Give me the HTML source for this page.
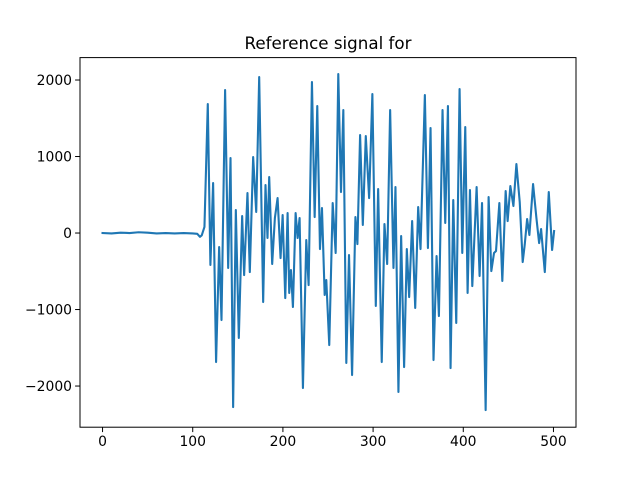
<!DOCTYPE html>
<html><head><meta charset="utf-8"><style>
html,body{margin:0;padding:0;background:#fff;}
svg{display:block;font-family:"DejaVu Sans","Liberation Sans",sans-serif;}
</style></head>
<body>
<svg id="chart" width="640" height="480" viewBox="0 0 640 480">
<rect x="0" y="0" width="640" height="480" fill="#fff"/>
<text x="328" y="49" text-anchor="middle" font-size="16.7">Reference signal for</text>
<g id="plot"></g>
</svg>
<script>
const xVals=[0,10,20,30,40,50,60,70,80,90,100,105,108,110,113,116.7,119.6,122.6,125.9,129.3,131.9,135.9,139.3,141.9,144.8,147.8,151.1,154.8,157,160.7,163.3,167,170.4,173.7,178.1,180.7,182.9,184.8,188.1,191.1,194.1,197.4,199.7,202.6,205.2,207,208.9,211.1,214.1,216.3,218.5,222.2,225.9,228.5,232.2,235.2,238.1,241.1,243.3,246.3,248.1,251.4,255.2,258.5,261.4,264.4,267,270.3,273.3,276.7,280.4,282.6,285.6,288.6,291.9,295.6,299.2,303,305.6,309.6,312.6,315.6,318.9,322.6,324.8,328.1,331.1,334.4,337.4,340,343.3,346.7,350,352.6,357.4,360.8,363.7,367,370.4,373,377,380,383,385.9,388.9,392.2,395.9,398.9,402.2,404.8,407.4,410,414.8,418.1,420.8,424.8,428.1,431.1,434.1,436.3,440,443.3,447,449.2,452.2,455.6,458.9,462.6,465.9,468.1,470.8,473.3,477.4,481.1,484.1,486.3,490.4,494.8,498.5,500.7];
const yVals=[0,-5,5,0,10,5,-5,0,-5,0,-5,-10,-50,-30,80,1686,-418,654,-1686,-183,-1137,1869,-457,980,-2275,301,-1372,222,-549,523,-510,993,275,2039,-902,627,-65,732,-405,196,457,-327,235,-850,261,-784,-484,-967,261,-65,196,-2026,-92,-680,1974,209,1660,-209,327,-810,-614,-1464,392,-261,2078,536,1608,-1699,-288,-1856,209,-144,1281,105,1268,457,1817,-954,575,-1686,118,-405,1608,-457,601,-2078,-39,-1752,-209,-837,157,-980,340,-209,1804,-196,1373,-1660,-301,-1085,1608,131,1660,-1765,431,-1176,1882,-261,1386,-784,562,-693,601,-562,392,-2314,471,-497,-261,-235,392,-627,549,157,614,353,902,405,-379,-157,183,-26,640,196,-131,52,-510,536,-222,26];
const xTicks=[0,100,200,300,400,500];
const yTicks=[-2000,-1000,0,1000,2000];
const yTickLabels=["\u22122000","\u22121000","0","1000","2000"];

const L=80,R=576,T=57.6,B=427.2;
const xMin=-25,xMax=525,yMin=-2538,yMax=2293;
const sx=v=>L+(v-xMin)/(xMax-xMin)*(R-L);
const sy=v=>B-(v-yMin)/(yMax-yMin)*(B-T);
const NS="http://www.w3.org/2000/svg";
const g=document.getElementById('plot');
function mk(tag,attrs){const e=document.createElementNS(NS,tag);for(const k in attrs)e.setAttribute(k,attrs[k]);g.appendChild(e);return e;}

let d="";
xVals.forEach((x,i)=>{d+=(i?"L":"M")+sx(x).toFixed(2)+","+sy(yVals[i]).toFixed(2);});
const line=mk('path',{d:d,fill:'none',stroke:'#1f77b4','stroke-width':2.1,'stroke-linejoin':'round','stroke-linecap':'square'});



const frame=mk('rect',{x:L,y:T,width:R-L,height:B-T,fill:'none',stroke:'#000','stroke-width':1});



xTicks.forEach(t=>{
  const x=sx(t);
  const tk=mk('line',{x1:x,x2:x,y1:B,y2:B+4.9,stroke:'#000','stroke-width':1});
  
  
  const tx=mk('text',{x:x,y:B+19,'text-anchor':'middle','font-size':13.9});
  tx.textContent=t;
  
  
});
yTicks.forEach((t,i)=>{
  const y=sy(t);
  const tk=mk('line',{x1:L-4.9,x2:L,y1:y,y2:y,stroke:'#000','stroke-width':1});
  
  
  const tx=mk('text',{x:L-8,y:y+5,'text-anchor':'end','font-size':13.9});
  tx.textContent=yTickLabels[i];
  
  
});
</script>
</body></html>
